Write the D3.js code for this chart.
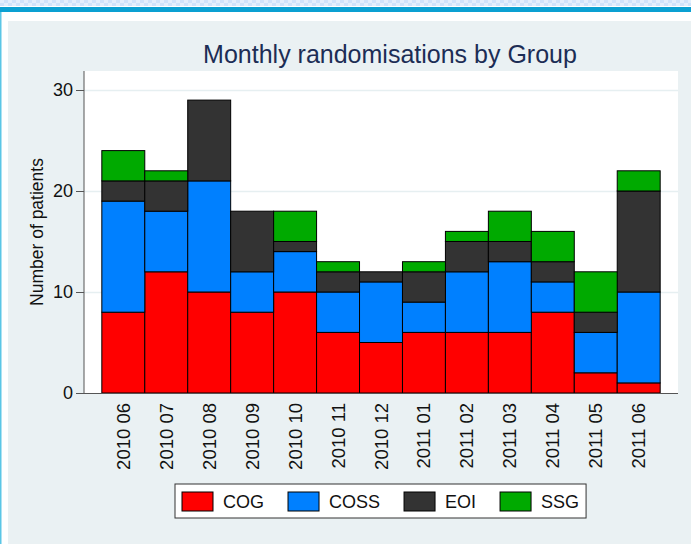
<!DOCTYPE html>
<html>
<head>
<meta charset="utf-8">
<script src="https://cdn.jsdelivr.net/npm/d3@7"></script>
<style>
  body { margin: 0; background: #fff; }
  svg { display: block; font-family: "Liberation Sans", Arial, sans-serif; }
</style>
</head>
<body>
<script>
// data
var months = ["2010 06", "2010 07", "2010 08", "2010 09", "2010 10", "2010 11", "2010 12",
              "2011 01", "2011 02", "2011 03", "2011 04", "2011 05", "2011 06"];
var groups = ["COG", "COSS", "EOI", "SSG"];
var cog  = [8, 12, 10, 8, 10, 6, 5, 6, 6, 6, 8, 2, 1];
var coss = [11, 6, 11, 4, 4, 4, 6, 3, 6, 7, 3, 4, 9];
var eoi  = [2, 3, 8, 6, 1, 2, 1, 3, 3, 2, 2, 2, 10];
var ssg  = [3, 1, 0, 0, 3, 1, 0, 1, 1, 3, 3, 4, 2];
var yTicks = [0, 10, 20, 30];

var colors = {COG: "#ff0000", COSS: "#0080ff", EOI: "#333333", SSG: "#00aa00"};

var W = 691, H = 544;
var plot = {left: 84, right: 678, top: 71, bottom: 393};

var table = months.map(function(m, i) {
  return {month: m, COG: cog[i], COSS: coss[i], EOI: eoi[i], SSG: ssg[i]};
});
var series = d3.stack().keys(groups)(table);

var svg = d3.select("body").append("svg")
  .attr("width", W)
  .attr("height", H);

// page decoration
var defs = svg.append("defs");
var pat = defs.append("pattern").attr("id", "chk")
  .attr("width", 8).attr("height", 6).attr("patternUnits", "userSpaceOnUse");
pat.append("rect").attr("width", 8).attr("height", 6).attr("fill", "#cfe2fa");
pat.append("rect").attr("x", 0).attr("y", 0).attr("width", 4).attr("height", 3).attr("fill", "#e3eefc");
pat.append("rect").attr("x", 4).attr("y", 3).attr("width", 4).attr("height", 3).attr("fill", "#e3eefc");

svg.append("rect").attr("x", 0).attr("y", 0).attr("width", W).attr("height", 6).attr("fill", "url(#chk)");
svg.append("rect").attr("x", 0).attr("y", 7).attr("width", W).attr("height", 5).attr("fill", "#0aa0d2");
svg.append("rect").attr("x", 0).attr("y", 12).attr("width", 1.5).attr("height", H - 12).attr("fill", "#5bc6e6");
svg.append("rect").attr("x", 8).attr("y", 21).attr("width", W - 8).attr("height", H - 21).attr("fill", "#eaf1f3");

// scales
var x = d3.scaleBand()
  .domain(months)
  .range([plot.left, plot.right])
  .paddingInner(0)
  .paddingOuter(0.415);

var y = d3.scaleLinear()
  .domain([0, 30])
  .range([plot.bottom, 90]);

// plot region
svg.append("rect")
  .attr("x", plot.left).attr("y", plot.top)
  .attr("width", plot.right - plot.left).attr("height", plot.bottom - plot.top)
  .attr("fill", "#fff");

// gridlines
svg.append("g").selectAll("line")
  .data(yTicks.filter(function(d) { return d > 0; }))
  .join("line")
  .attr("x1", plot.left).attr("x2", plot.right)
  .attr("y1", function(d) { return y(d) + 0.5; })
  .attr("y2", function(d) { return y(d) + 0.5; })
  .attr("stroke", "#e6eff1")
  .attr("stroke-width", 1.5);

// bars
svg.append("g").selectAll("g")
  .data(series)
  .join("g")
  .attr("fill", function(d) { return colors[d.key]; })
  .selectAll("rect")
  .data(function(d) { return d.filter(function(p) { return p[1] > p[0]; }); })
  .join("rect")
  .attr("x", function(d) { return x(d.data.month); })
  .attr("y", function(d) { return y(d[1]); })
  .attr("width", x.bandwidth())
  .attr("height", function(d) { return y(d[0]) - y(d[1]); })
  .attr("stroke", "#000")
  .attr("stroke-width", 1);

// y axis
var yAxis = svg.append("g")
  .attr("transform", "translate(" + plot.left + ",0)")
  .call(d3.axisLeft(y).tickValues(yTicks).tickSize(8).tickPadding(3));
yAxis.select(".domain").attr("d", "M0," + plot.top + "V" + plot.bottom).attr("stroke", "#555");
yAxis.selectAll(".tick line").attr("stroke", "#555");
yAxis.selectAll(".tick text")
  .attr("font-size", 18)
  .attr("fill", "#111")
  .attr("font-family", "Liberation Sans, Arial, sans-serif");

// x axis
svg.append("line")
  .attr("x1", plot.left).attr("x2", plot.right)
  .attr("y1", plot.bottom + 0.5).attr("y2", plot.bottom + 0.5)
  .attr("stroke", "#555");

svg.append("g").selectAll("text")
  .data(months)
  .join("text")
  .attr("transform", function(d) {
    return "translate(" + (x(d) + x.bandwidth() / 2 + 6.5) + "," + (plot.bottom + 10) + ") rotate(-90)";
  })
  .attr("text-anchor", "end")
  .attr("font-size", 18.5)
  .attr("fill", "#111")
  .text(function(d) { return d; });

// axis title
svg.append("text")
  .attr("transform", "translate(43," + ((plot.top + plot.bottom) / 2) + ") rotate(-90)")
  .attr("text-anchor", "middle")
  .attr("font-size", 17.5)
  .attr("fill", "#111")
  .text("Number of patients");

// title
svg.append("text")
  .attr("x", 390)
  .attr("y", 63)
  .attr("text-anchor", "middle")
  .attr("font-size", 25)
  .attr("fill", "#1c2d55")
  .text("Monthly randomisations by Group");

// legend
var leg = svg.append("g");
var legBox = leg.append("rect")
  .attr("y", 484).attr("height", 34)
  .attr("fill", "#fff").attr("stroke", "#333").attr("stroke-width", 1);
var cx = 182;
groups.forEach(function(g) {
  leg.append("rect")
    .attr("x", cx).attr("y", 492).attr("width", 31).attr("height", 19)
    .attr("fill", colors[g]).attr("stroke", "#000");
  var t = leg.append("text")
    .attr("x", cx + 41).attr("y", 508)
    .attr("font-size", 18)
    .attr("fill", "#111")
    .text(g);
  cx = cx + 41 + t.node().getComputedTextLength() + 24;
});
legBox.attr("x", 175).attr("width", cx - 24 + 7 - 175);
</script>
</body>
</html>
